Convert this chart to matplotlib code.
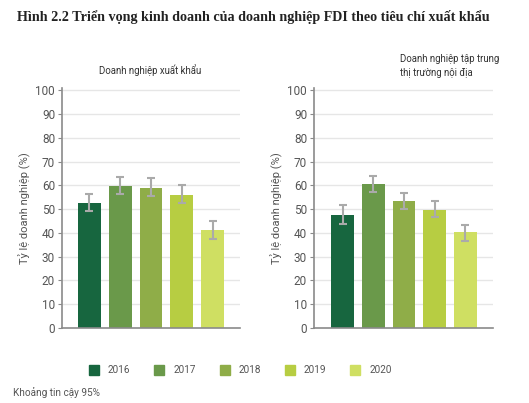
import matplotlib
matplotlib.use("Agg")
import matplotlib.pyplot as plt
from matplotlib.patches import Rectangle
import numpy as np

years = ["2016", "2017", "2018", "2019", "2020"]
colors = ["#17663f", "#6a994a", "#8fad48", "#b7cd42", "#cfdf62"]

export_vals = [52.7, 59.8, 59.0, 56.1, 41.4]
export_lo = [49.1, 56.3, 55.5, 52.6, 37.5]
export_hi = [56.5, 63.5, 63.0, 60.0, 45.0]

domestic_vals = [47.7, 60.7, 53.6, 49.8, 40.2]
domestic_lo = [43.8, 57.2, 50.1, 46.6, 36.8]
domestic_hi = [51.7, 63.9, 56.8, 53.3, 43.4]

yticks = [0, 10, 20, 30, 40, 50, 60, 70, 80, 90, 100]

W, H = 529, 403
fig = plt.figure(figsize=(W / 100, H / 100), dpi=100)
plt.rcParams['font.family'] = ['Roboto', 'DejaVu Sans']

txt = "#555555"
grid_c = "#e6e6e6"
spine_c = "#8a8a8a"
err_c = "#aaaaaa"


def fx(px):
    return px / W


def fy(py):
    return 1 - py / H


def draw(ax, vals, lo, hi, xlim):
    x = np.arange(len(vals))
    ax.set_axisbelow(True)
    ax.bar(x, vals, width=0.74, color=colors, zorder=2)
    v = np.array(vals)
    yerr = [v - np.array(lo), np.array(hi) - v]
    ax.errorbar(x, vals, yerr=yerr, fmt="none", ecolor=err_c, elinewidth=1.5,
                capsize=3, capthick=1.5, zorder=3)
    ax.set_ylim(0, 101)
    ax.set_xlim(*xlim)
    ax.set_yticks(yticks)
    ax.set_yticklabels([str(t) for t in yticks], fontsize=8.5, color=txt)
    ax.set_xticks([])
    for t in yticks[1:]:
        ax.axhline(t, color=grid_c, lw=1, zorder=1)
    for s in ["top", "right"]:
        ax.spines[s].set_visible(False)
    for s in ["left", "bottom"]:
        ax.spines[s].set_color(spine_c)
        ax.spines[s].set_linewidth(1.2)
    ax.tick_params(axis="y", length=3, width=0.8, color=spine_c, pad=2)
    ax.set_ylabel("Tỷ lệ doanh nghiệp (%)", fontsize=8, color=txt, labelpad=3)


ax1 = fig.add_axes([fx(62), fy(328), fx(240 - 62), (328 - 88) / H])
draw(ax1, export_vals, export_lo, export_hi, (-0.89, 4.89))
ax2 = fig.add_axes([fx(314), fy(328), fx(493 - 314), (328 - 88) / H])
draw(ax2, domestic_vals, domestic_lo, domestic_hi, (-0.93, 4.9))

title = fig.text(fx(17), fy(17),
                 "Hình 2.2 Triển vọng kinh doanh của doanh nghiệp FDI theo tiêu chí xuất khẩu",
                 fontsize=10, fontweight="bold", family=["Liberation Serif", "DejaVu Serif"],
                 color="#222222", ha="left", va="center")
renderer = fig.canvas.get_renderer()
wpx = title.get_window_extent(renderer).width
title.set_fontsize(10 * 473 / wpx)

fig.text(fx(150), fy(70), "Doanh nghiệp xuất khẩu", fontsize=6.9, color="#333333",
         ha="center", va="center")
fig.text(fx(400), fy(66), "Doanh nghiệp tập trung\nthị trường nội địa", fontsize=6.9,
         color="#333333", ha="left", va="center", linespacing=1.6)

# legend
for i, (yr, c) in enumerate(zip(years, colors)):
    x0 = 89 + i * 65.3
    fig.patches.append(Rectangle((fx(x0), fy(375)), fx(10), 10 / H, color=c,
                                 transform=fig.transFigure, figure=fig))
    fig.text(fx(x0 + 19), fy(370), yr, fontsize=7.2, color=txt, ha="left", va="center")

fig.text(fx(13), fy(393), "Khoảng tin cậy 95%", fontsize=7.2, color=txt,
         ha="left", va="center")

fig.savefig("out.png", dpi=100)
